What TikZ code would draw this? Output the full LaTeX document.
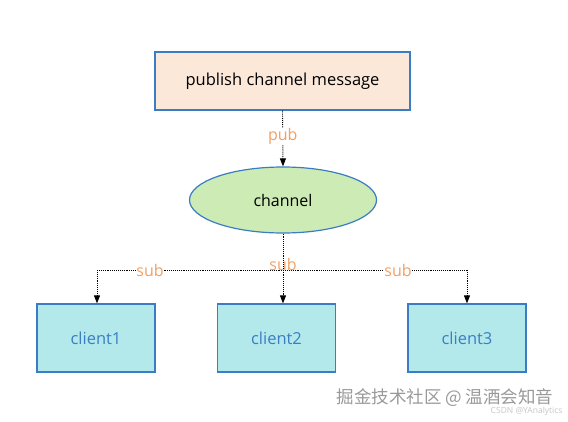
\documentclass[tikz,border=0pt]{standalone}
\usepackage{fontspec}
\setmainfont{Open Sans}
\newfontfamily\cjk{Noto Sans CJK SC}
\usetikzlibrary{shapes.geometric,arrows.meta}
\definecolor{bordblue}{HTML}{3B7DC4}
\definecolor{peach}{HTML}{FBE8D9}
\definecolor{lgreen}{HTML}{CDEBB4}
\definecolor{lcyan}{HTML}{B4E9EC}
\definecolor{txtblue}{HTML}{3A7EC2}
\definecolor{orng}{HTML}{F0A065}
\tikzset{
  box/.style={draw=bordblue, line width=1.2pt, inner sep=0pt},
  client/.style={box, fill=lcyan, minimum width=118pt, minimum height=68pt, text=txtblue, font=\fontsize{16.5}{18}\selectfont},
  conn/.style={densely dotted, line width=0.9pt, -{Triangle[length=8pt,width=6pt]}},
  lbl/.style={text=orng, font=\fontsize{16}{18}\selectfont, fill=white, inner sep=0.5pt}
}
\begin{document}
\begin{tikzpicture}[x=1pt,y=-1pt]
\useasboundingbox (0,0) rectangle (568,421);
\node[box, fill=peach, minimum width=255pt, minimum height=58pt, font=\fontsize{16.5}{18}\selectfont] (pub) at (282.5,81) {publish channel message};
\node[box, ellipse, fill=lgreen, minimum width=187pt, minimum height=66pt, font=\fontsize{16}{18}\selectfont] (ch) at (283,200) {channel};
\node[client] (c1) at (96,338) {client1};
\node[client] (c2) at (276.5,338) {client2};
\node[client] (c3) at (467,338) {client3};
\coordinate (j1) at (97,270);
\coordinate (j3) at (467,270);
\draw[conn] (pub.south) -- node[lbl, pos=0.47] (lp) {pub} (ch.north);
\draw[densely dotted, line width=0.9pt] (j1) -- (j3);
\node[lbl] (ls1) at (150,270) {sub};
\node[lbl, fill=none] (ls2) at (283,264) {sub};
\node[lbl] (ls3) at (398,270) {sub};
\draw[conn] (ch.south) -- (c2.north -| ch.south);
\draw[conn] (j1) -- (c1.north -| j1);
\draw[conn] (j3) -- (c3.north -| j3);
\node[text=gray!80, font=\cjk\fontsize{17.5}{19}\selectfont, anchor=west] (wm) at (333,398) {掘金技术社区 @ 温酒会知音};
\node[text=gray!45, font=\fontsize{8.5}{9}\selectfont, anchor=east] (wm2) at (566,411) {CSDN @YAnalytics};
\end{tikzpicture}
\end{document}
